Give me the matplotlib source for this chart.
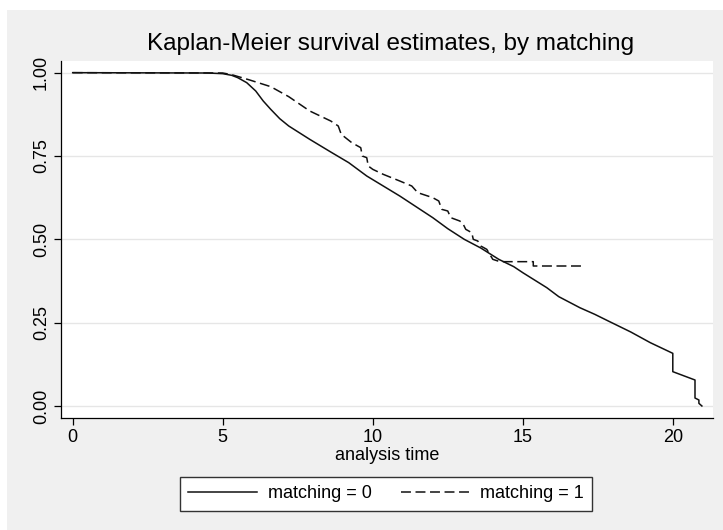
import matplotlib
matplotlib.use("Agg")
import matplotlib.pyplot as plt
from matplotlib.patches import Rectangle

plt.rcParams['font.family'] = ['Liberation Sans', 'DejaVu Sans']

# matching = 0 (solid)
time_0 = [0, 4.5, 5.0, 5.3, 5.5, 5.8, 6.1, 6.35, 6.6, 6.9, 7.2, 7.55, 7.9, 8.6,
          9.2, 9.8, 10.9, 12.0, 12.5, 13.05, 13.6, 14.2, 14.7, 15.0, 15.8, 16.2,
          16.9, 17.4, 17.85, 18.6, 19.25, 20.0, 20.0, 20.74, 20.74, 20.87,
          20.87, 20.97]
surv_0 = [1.0, 0.999, 0.997, 0.992, 0.985, 0.97, 0.945, 0.915, 0.89, 0.862,
          0.84, 0.82, 0.80, 0.762, 0.73, 0.69, 0.63, 0.565, 0.532, 0.50, 0.474,
          0.44, 0.418, 0.40, 0.355, 0.328, 0.295, 0.275, 0.255, 0.222, 0.19,
          0.158, 0.103, 0.078, 0.024, 0.018, 0.008, 0.0]

# matching = 1 (dashed), corners of the visible steps
time_1 = [0, 5.0, 5.3, 5.9, 6.6, 7.2, 7.9, 8.6, 8.85, 8.95, 9.3, 9.6, 9.65,
          9.8, 9.85, 10.0, 10.35, 10.9, 11.3, 11.5, 12.0, 12.2, 12.3, 12.5,
          12.6, 12.9, 13.0, 13.1, 13.3, 13.35, 13.5, 13.6, 13.8, 13.9, 14.0,
          14.24, 15.35, 15.35, 17.0]
surv_1 = [1.0, 0.999, 0.994, 0.978, 0.958, 0.928, 0.885, 0.855, 0.84, 0.815,
          0.79, 0.775, 0.75, 0.745, 0.72, 0.71, 0.695, 0.675, 0.66, 0.64, 0.625,
          0.615, 0.59, 0.585, 0.565, 0.555, 0.548, 0.53, 0.52, 0.50, 0.495,
          0.48, 0.47, 0.455, 0.44, 0.433, 0.433, 0.42, 0.42]

x_ticks = [0, 5, 10, 15, 20]
y_ticks = [0.0, 0.25, 0.5, 0.75, 1.0]
y_labels = ['0.00', '0.25', '0.50', '0.75', '1.00']

W, H = 723, 530
fig = plt.figure(figsize=(W / 100, H / 100), dpi=100, facecolor='white')
# grey graph region, behind the axes
fig.patches.append(Rectangle((7 / W, 0), 1 - 7 / W, 1 - 10 / H,
                             transform=fig.transFigure, facecolor='#f0f0f0',
                             edgecolor='none', zorder=-10))

ax = fig.add_axes([61 / W, 1 - 418 / H, (713 - 61) / W, (418 - 61) / H])
ax.set_facecolor('white')

ax.plot(time_0, surv_0, color='#111111', lw=1.1, label='matching = 0')
ax.plot(time_1, surv_1, color='#111111', lw=1.1, dashes=(6.5, 3),
        label='matching = 1')

ax.set_xlim(-0.39, 21.34)
ax.set_ylim(-0.036, 1.035)
ax.set_xticks(x_ticks)
ax.set_yticks(y_ticks)
ax.set_yticklabels(y_labels, rotation=90, va='center')
ax.yaxis.grid(True, color='#e6e6e6', lw=1.0)
ax.set_axisbelow(True)

for side in ['top', 'right']:
    ax.spines[side].set_visible(False)
for side in ['left', 'bottom']:
    ax.spines[side].set_color('black')
    ax.spines[side].set_linewidth(0.9)
ax.tick_params(direction='out', length=5, width=0.9, labelsize=13, pad=3)

ax.set_xlabel('analysis time', fontsize=13, labelpad=1)
fig.text(391 / W, 1 - 44 / H, 'Kaplan-Meier survival estimates, by matching',
         fontsize=17.5, ha='center', va='center')

leg = fig.legend(loc='center', bbox_to_anchor=(386 / W, 1 - 494 / H), ncol=2,
                 fontsize=13, handlelength=3.8, handletextpad=0.6,
                 columnspacing=1.6, borderpad=0.45, fancybox=False,
                 framealpha=1, edgecolor='#333333', borderaxespad=0)
leg.get_frame().set_linewidth(1.0)

fig.savefig('out.png', dpi=100, facecolor=fig.get_facecolor())
